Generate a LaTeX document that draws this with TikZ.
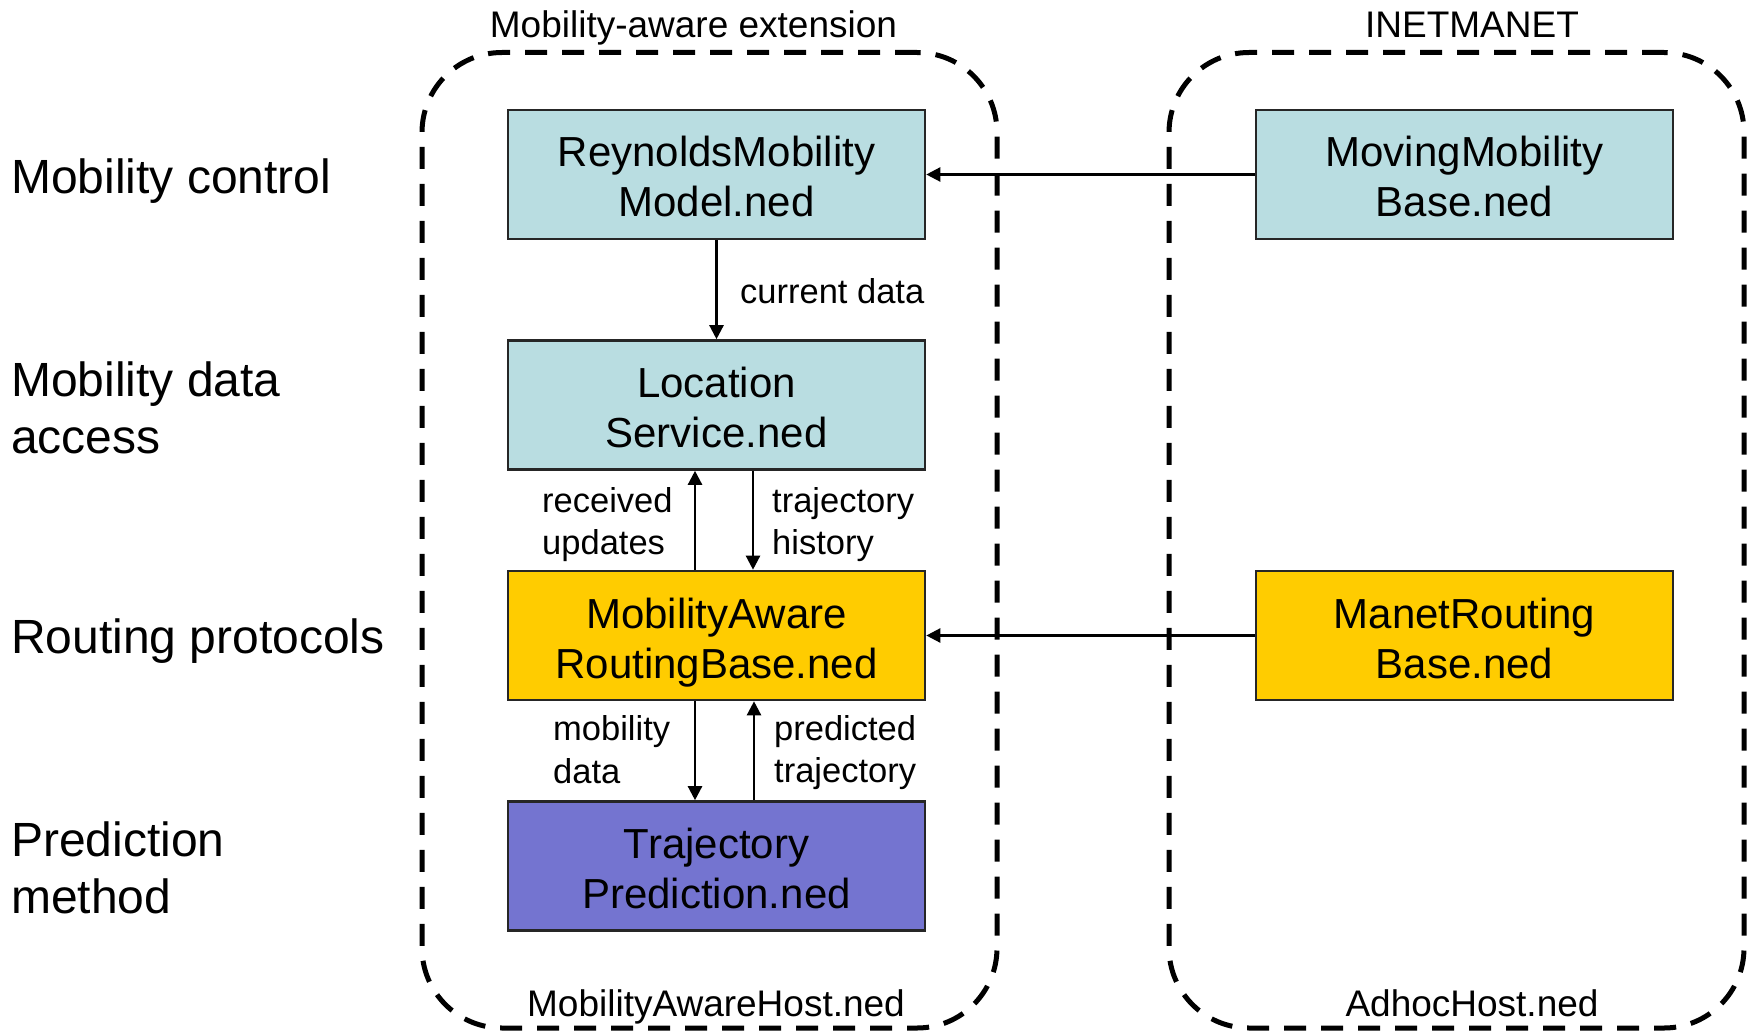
\documentclass[tikz,border=0pt]{standalone}
\usepackage{fontspec}
\setmainfont{Liberation Sans}
\usetikzlibrary{arrows.meta}
\definecolor{modblue}{HTML}{B9DDE1}
\definecolor{modyellow}{HTML}{FFCC00}
\definecolor{modpurple}{HTML}{7474D0}

% two centred lines with a fixed text box, so every module label sits alike
\newcommand{\modtext}[2]{\rule{0pt}{45pt}#1\\#2\rule[-10pt]{0pt}{10pt}}

\begin{document}
\begin{tikzpicture}[x=1pt,y=-1pt,
  module/.style={draw=black!85, line width=2.6pt, minimum width=417pt,
    minimum height=129pt, inner sep=0pt, align=center,
    font=\fontsize{42}{50}\selectfont},
  frame/.style={draw, line width=5pt, dash pattern=on 22pt off 15pt,
    rounded corners=80pt, minimum width=575pt, minimum height=975.5pt,
    inner sep=0pt},
  flow/.style={line width=2.4pt, -{Triangle[length=14pt,width=14pt]}},
  layer/.style={anchor=west, align=left, inner sep=0pt,
    font=\fontsize{48}{56.7}\selectfont},
  tag/.style={anchor=west, align=left, inner sep=0pt,
    font=\fontsize{34.5}{42.5}\selectfont},
  caption/.style={inner sep=0pt, font=\fontsize{37}{44}\selectfont}]

\useasboundingbox (0,0) rectangle (1752,1032);

% host containers
\node[frame] (ext)  at (709.5,540.25) {};
\node[frame] (host) at (1456.5,540.25) {};
\node[caption] (extname)   at (693.5,28)   {Mobility-aware extension};
\node[caption] (inetname)  at (1472,24.6)  {INETMANET};
\node[caption] (mahost)    at (716,1006.5) {MobilityAwareHost.ned};
\node[caption] (adhoc)     at (1472,1003)  {AdhocHost.ned};

% layer names
\node[layer] (lctrl)  at (11,181)   {Mobility control};
\node[layer] (lacc)   at (11,408)   {Mobility data\\access};
\node[layer] (lrout)  at (11,641.5) {Routing protocols};
\node[layer] (lpred)  at (11,867.5) {Prediction\\method};

% modules
\node[module, fill=modblue]   (rey)   at (716.5,174.5)  {\modtext{ReynoldsMobility}{Model.ned}};
\node[module, fill=modblue]   (loc)   at (716.5,405)    {\modtext{Location}{Service.ned}};
\node[module, fill=modyellow] (mar)   at (716.5,635.5)  {\modtext{MobilityAware}{RoutingBase.ned}};
\node[module, fill=modpurple] (traj)  at (716.5,866)    {\modtext{Trajectory}{Prediction.ned}};
\node[module, fill=modblue]   (mov)   at (1464.5,174.5) {\modtext{MovingMobility}{Base.ned}};
\node[module, fill=modyellow] (manet) at (1464.5,635.5) {\modtext{ManetRouting}{Base.ned}};

% inheritance
\draw[flow] (mov) -- (rey);
\draw[flow] (manet) -- (mar);

% data flow
\draw[flow] (rey) -- (loc);
\draw[flow] ([xshift=-21.5pt]mar.north) -- ([xshift=-21.5pt]loc.south);
\draw[flow] ([xshift=36.5pt]loc.south) -- ([xshift=36.5pt]mar.north);
\draw[flow] ([xshift=-21.5pt]mar.south) -- ([xshift=-21.5pt]traj.north);
\draw[flow] ([xshift=37.5pt]traj.north) -- ([xshift=37.5pt]mar.south);

% flow labels
\node[tag] (curdata)  at (740,291.5)  {current data};
\node[tag] (recv)     at (542,524.4)  {received\\updates};
\node[tag] (trajhist) at (772,524.4)  {trajectory\\history};
\node[tag] (mobdata)  at (553,749.5)  {mobility\\data};
\node[tag] (predtraj) at (774,752.5)  {predicted\\trajectory};
\end{tikzpicture}
\end{document}
